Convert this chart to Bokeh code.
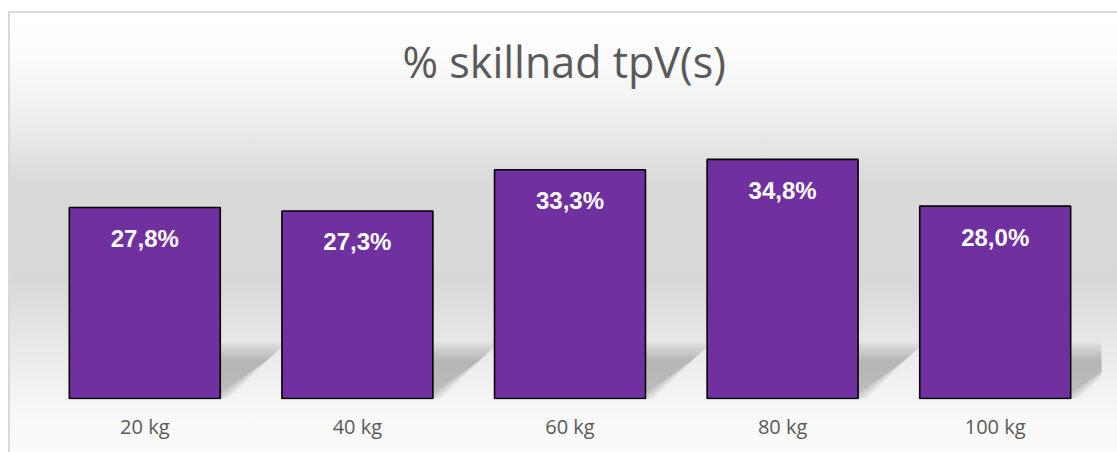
from bokeh.plotting import figure
from bokeh.models import ColumnDataSource, FactorRange, Range1d, Label
from bokeh.core.properties import value
from bokeh.embed import file_html
from bokeh.resources import INLINE

# ---- data ----
categories = ["20 kg", "40 kg", "60 kg", "80 kg", "100 kg"]
values = [27.8, 27.3, 33.3, 34.8, 28.0]
labels = [f"{v:.1f}".replace(".", ",") + "%" for v in values]
title_text = "% skillnad tpV(s)"

PX_PER_UNIT = 6.87
FRAME_H = 387
y_start = -1.0 / PX_PER_UNIT
y_end = y_start + FRAME_H / PX_PER_UNIT

p = figure(
    width=1117, height=452,
    x_range=FactorRange(factors=categories, range_padding=0),
    y_range=Range1d(y_start, y_end),
    output_backend="svg", toolbar_location=None,
    y_axis_location=None,
    min_border_left=38, min_border_right=16,
    min_border_top=12, min_border_bottom=53,
)
p.background_fill_color = None
p.border_fill_color = None
p.outline_line_color = None
p.grid.visible = False

vert = ("linear-gradient(to bottom, #ffffff 0px, #ffffff 11px, #d9d9d9 11px, #d9d9d9 13px, "
        "#ffffff 13px, #fbfbfb 60px, #f0f0f0 110px, #e4e4e4 150px, #d9d9d9 185px, "
        "#d8d8d8 280px, #dfdfdf 310px, #e9e9e9 345px, #f4f4f4 398px, #f9f9f9 420px, #fbfbfb 452px)")
p.styles = {
    "background": (
        "linear-gradient(#d9d9d9, #d9d9d9) 8px 11px / 2px 100% no-repeat, "
        "linear-gradient(#ffffff, #ffffff) 0px 0px / 8px 100% no-repeat, "
        + vert
    )
}

# ---- perspective shadows (blurred by layering) ----
half_w = 0.355
band_px = 1063 / len(categories)
skew = 58 / band_px        # horizontal shift of shadow top (in band units)
sh_h = 48 / PX_PER_UNIT    # shadow height (data units)
n_layers = 10
for k in range(n_layers):
    e = (k - (n_layers - 1) / 2) * 2.0   # px expansion
    ex = e / band_px
    ey = e / PX_PER_UNIT
    xs, ys = [], []
    for c in categories:
        xs.append([(c, -half_w - ex * 0.3), (c, half_w + ex),
                   (c, half_w + skew + ex), (c, -half_w + skew - ex * 0.3)])
        ys.append([0, 0, sh_h + ey, sh_h + ey])
    p.patches(xs=xs, ys=ys, fill_color="black", fill_alpha=0.023, line_color=None)

# ---- bars ----
src = ColumnDataSource(dict(cat=categories, val=values, lab=labels))
p.vbar(x="cat", top="val", width=0.71, source=src,
       fill_color="#7030A0", line_color="black", line_width=1.6)

p.text(x="cat", y="val", text="lab", source=src,
       text_font=value("Liberation Sans"), text_font_style="bold",
       text_font_size="24px", text_color="white",
       text_align="center", text_baseline="middle", y_offset=31)

# ---- title ----
p.add_layout(Label(x=525.7, y=338, x_units="screen", y_units="screen",
                   text=title_text, text_font="Open Sans", text_font_size="43px",
                   text_color="#595959", text_align="center",
                   text_baseline="alphabetic"))

# ---- x axis ----
ax = p.xaxis[0]
ax.axis_line_color = None
ax.major_tick_line_color = None
ax.minor_tick_line_color = None
ax.major_tick_out = 0
ax.major_tick_in = 0
ax.major_label_standoff = 13
ax.major_label_text_font = "Open Sans"
ax.major_label_text_font_size = "20px"
ax.major_label_text_color = "#595959"

open("out.html", "w").write(file_html(p, INLINE))
